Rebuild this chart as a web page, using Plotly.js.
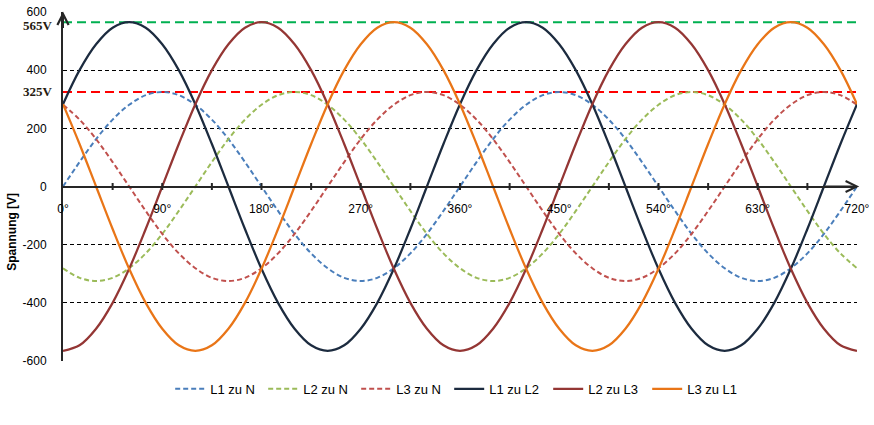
<!DOCTYPE html>
<html>
<head>
<meta charset="utf-8">
<script src="https://cdn.plot.ly/plotly-3.0.1.min.js"></script>
<style>html,body{margin:0;padding:0;background:#fff}#chart{width:874px;height:425px}</style>
</head>
<body>
<div id="chart"></div>
<script>
// angles in degrees (every 15°)
const angles = [0,15,30,45,60,75,90,105,120,135,150,165,180,195,210,225,240,255,270,285,300,315,330,345,
  360,375,390,405,420,435,450,465,480,495,510,525,540,555,570,585,600,615,630,645,660,675,690,705,720];

const l1N = [0,84,163,230,281,314,325,314,281,230,163,84,0,-84,-163,-230,-281,-314,-325,-314,-281,-230,-163,-84,
  0,84,163,230,281,314,325,314,281,230,163,84,0,-84,-163,-230,-281,-314,-325,-314,-281,-230,-163,-84,0];
const l2N = [-281,-314,-325,-314,-281,-230,-163,-84,0,84,163,230,281,314,325,314,281,230,163,84,0,-84,-163,-230,
  -281,-314,-325,-314,-281,-230,-163,-84,0,84,163,230,281,314,325,314,281,230,163,84,0,-84,-163,-230,-281];
const l3N = [281,230,163,84,0,-84,-163,-230,-281,-314,-325,-314,-281,-230,-163,-84,0,84,163,230,281,314,325,314,
  281,230,163,84,0,-84,-163,-230,-281,-314,-325,-314,-281,-230,-163,-84,0,84,163,230,281,314,325,314,281];
const l1L2 = [283,400,489,546,565,546,489,400,283,146,0,-146,-283,-400,-489,-546,-565,-546,-489,-400,-283,-146,0,146,
  283,400,489,546,565,546,489,400,283,146,0,-146,-283,-400,-489,-546,-565,-546,-489,-400,-283,-146,0,146,283];
const l2L3 = [-565,-546,-489,-400,-283,-146,0,146,283,400,489,546,565,546,489,400,283,146,0,-146,-283,-400,-489,-546,
  -565,-546,-489,-400,-283,-146,0,146,283,400,489,546,565,546,489,400,283,146,0,-146,-283,-400,-489,-546,-565];
const l3L1 = [283,146,0,-146,-283,-400,-489,-546,-565,-546,-489,-400,-283,-146,0,146,283,400,489,546,565,546,489,400,
  283,146,0,-146,-283,-400,-489,-546,-565,-546,-489,-400,-283,-146,0,146,283,400,489,546,565,546,489,400,283];

const seriesNames = ["L1 zu N","L2 zu N","L3 zu N","L1 zu L2","L2 zu L3","L3 zu L1"];
const seriesData = [l1N,l2N,l3N,l1L2,l2L3,l3L1];
const seriesColors = ["#4A7EBB","#9BBB59","#C0504D","#1C2B3F","#943634","#E97517"];
const seriesDashed = [true,true,true,false,false,false];

const xTickVals = [0,45,90,135,180,225,270,315,360,405,450,495,540,585,630,675,720];
const xTickText = ["0°","","90°","","180°","","270°","","360°","","450°","","540°","","630°","","720°"];
const yTickVals = [-600,-400,-200,0,200,400,600];
const yTickText = ["-600","-400","-200","0","200","400","600"];

const peakLevels = [325,565];
const peakLabels = ["325V","565V"];
const peakColors = ["#FF0000","#00B050"];

const traces = seriesNames.map((n,i)=>({
  type:"scatter", mode:"lines", name:n, x:angles, y:seriesData[i],
  legendwidth: seriesDashed[i] ? 48 : 54,
  line:{color:seriesColors[i], width: seriesDashed[i]?2:2.25, dash: seriesDashed[i]?"5px,3px":"solid", shape:"spline", smoothing:1}
}));

const shapes = [];
peakLevels.forEach((v,i)=>{
  shapes.push({type:"line", xref:"x", yref:"y", x0:0, x1:720, y0:v, y1:v,
    line:{color:peakColors[i], width:2, dash:"9px,5px"}, layer:"below"});
});
xTickVals.forEach(t=>{
  if (t>0 && t<720) shapes.push({type:"line", xref:"x", yref:"y", x0:t, x1:t, y0:-12, y1:12,
    line:{color:"#262626", width:2}, layer:"above"});
});

const annotations = [];
peakLevels.forEach((v,i)=>{
  annotations.push({xref:"paper", yref:"y", x:0, y:v, xanchor:"right", yanchor:"middle", xshift:-8, yshift: i===1?-3:0,
    text:"<b>"+peakLabels[i]+"</b>", showarrow:false, font:{family:"Liberation Serif, DejaVu Serif, serif", size:13, color:"#261a10"}});
});
annotations.push({xref:"x", yref:"y", axref:"x", ayref:"y", x:722, y:0, ax:690, ay:0, text:"", showarrow:true,
  arrowhead:5, arrowsize:1.1, arrowwidth:2, arrowcolor:"#262626"});
annotations.push({xref:"x", yref:"y", axref:"x", ayref:"y", x:0, y:602, ax:0, ay:540, text:"", showarrow:true,
  arrowhead:5, arrowsize:1.1, arrowwidth:2, arrowcolor:"#262626"});
annotations.push({xref:"paper", yref:"paper", x:0, y:0.37, xshift:-51, xanchor:"center", yanchor:"middle",
  text:"<b>Spannung [V]</b>", textangle:-90, showarrow:false, font:{family:"Liberation Sans, Arial, sans-serif", size:12, color:"#000"}});

const layout = {
  width:874, height:425,
  margin:{l:63, r:17, t:12, b:64},
  paper_bgcolor:"#fff", plot_bgcolor:"#fff",
  showlegend:true,
  legend:{orientation:"h", x:0.135, xanchor:"left", y:-0.08, yanchor:"middle",
    font:{family:"Liberation Sans, Arial, sans-serif", size:13, color:"#000"}, itemwidth:30, tracegroupgap:0},
  font:{family:"Liberation Sans, Arial, sans-serif", size:12, color:"#000"},
  xaxis:{range:[0,720], anchor:"free", position:0.5, showline:true, linecolor:"#262626", linewidth:2,
    showgrid:false, zeroline:false, tickmode:"array", tickvals:xTickVals, ticktext:xTickText, ticks:"",
    ticklabelstandoff:11, tickfont:{size:12}},
  yaxis:{range:[-600,600], showline:true, linecolor:"#262626", linewidth:2, zeroline:false,
    showgrid:true, gridcolor:"#000", gridwidth:1, griddash:"4px,3px",
    tickmode:"array", tickvals:yTickVals, ticktext:yTickText, ticks:"", ticklabelstandoff:12, tickfont:{size:12}},
  shapes:shapes, annotations:annotations
};

Plotly.newPlot("chart", traces, layout, {displayModeBar:false, staticPlot:true});
</script>
</body>
</html>
